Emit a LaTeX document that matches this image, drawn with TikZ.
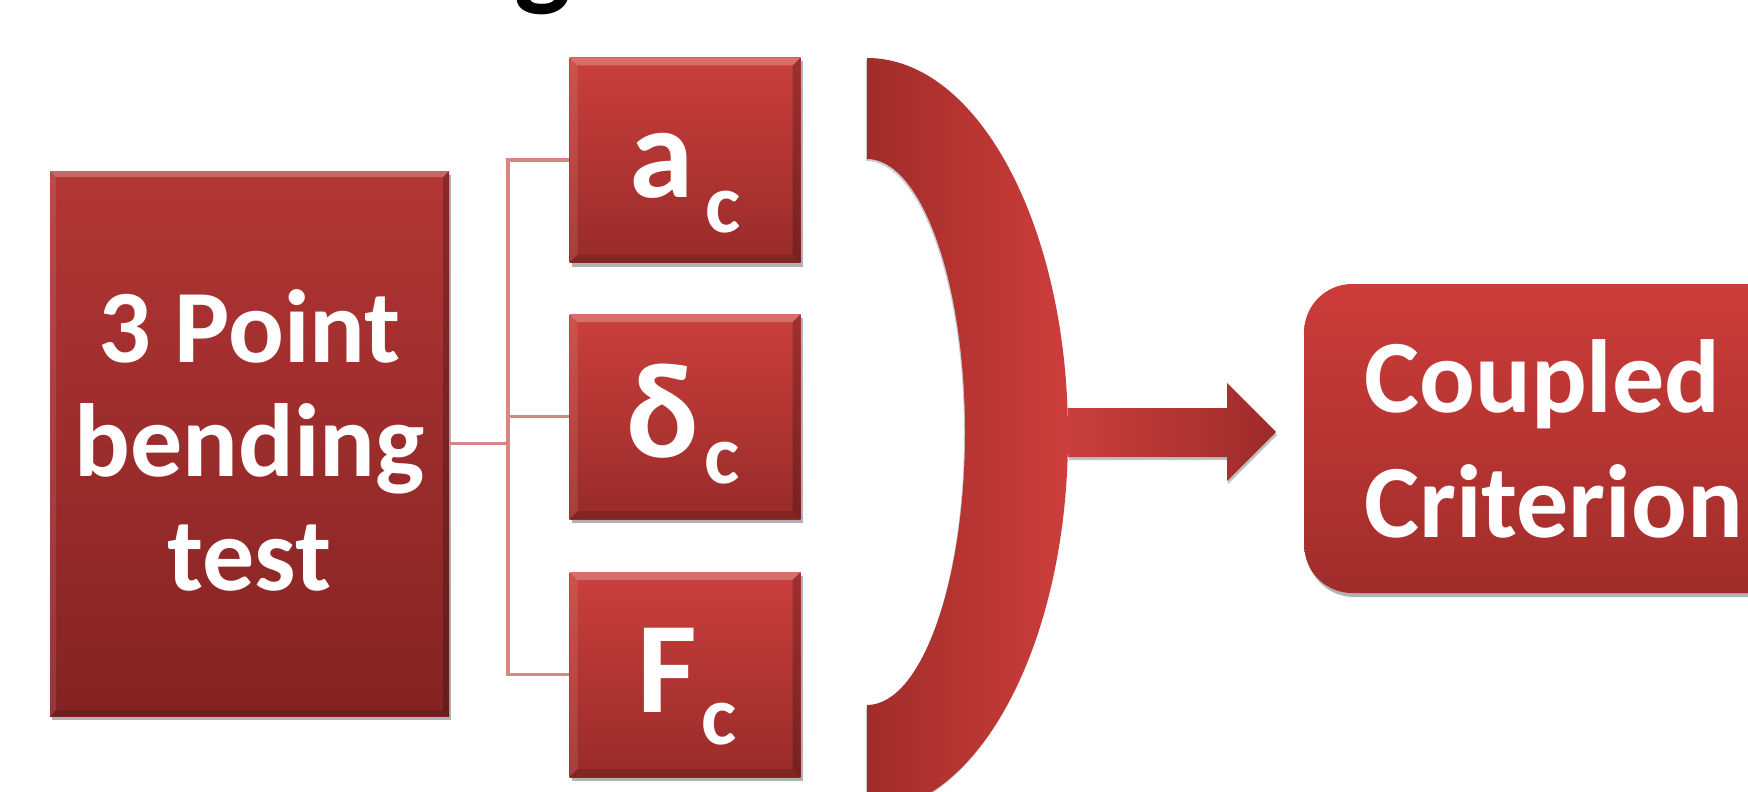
\documentclass[tikz,border=0pt]{standalone}
\usepackage{fontspec}
\setmainfont{Carlito}
\usetikzlibrary{shadows}
\definecolor{lbTop}{HTML}{B23634}
\definecolor{lbBot}{HTML}{842323}
\definecolor{sbTop}{HTML}{CA3F3C}
\definecolor{sbBot}{HTML}{982B29}
\definecolor{rbTop}{HTML}{CC3C39}
\definecolor{rbBot}{HTML}{A02D2B}
\definecolor{brL}{HTML}{A12C2A}
\definecolor{brR}{HTML}{CD3E3B}
\definecolor{arL}{HTML}{C83F3D}
\definecolor{arR}{HTML}{9E2B29}
\definecolor{connC}{HTML}{D98584}
\newcommand\lowc[2]{\hspace{#1pt}\raisebox{-#2pt}{\fontsize{84}{84}\selectfont\bfseries c}}
\begin{document}
\begin{tikzpicture}[x=1pt,y=-1pt,
  shadowed/.style={drop shadow={shadow xshift=2pt,shadow yshift=-4pt,opacity=.3,fill=black}},
  bevel/.style={path picture={
    \fill[white,opacity=.25] (path picture bounding box.north west) -- (path picture bounding box.north east)
      -- ([xshift=-#1,yshift=-#1]path picture bounding box.north east) -- ([xshift=#1,yshift=-#1]path picture bounding box.north west) -- cycle;
    \fill[white,opacity=.10] (path picture bounding box.north west) -- (path picture bounding box.south west)
      -- ([xshift=#1,yshift=#1]path picture bounding box.south west) -- ([xshift=#1,yshift=-#1]path picture bounding box.north west) -- cycle;
    \fill[black,opacity=.22] (path picture bounding box.north east) -- (path picture bounding box.south east)
      -- ([xshift=-#1,yshift=#1]path picture bounding box.south east) -- ([xshift=-#1,yshift=-#1]path picture bounding box.north east) -- cycle;
    \fill[black,opacity=.15] (path picture bounding box.south west) -- (path picture bounding box.south east)
      -- ([xshift=-#1,yshift=#1]path picture bounding box.south east) -- ([xshift=#1,yshift=#1]path picture bounding box.south west) -- cycle;
  }},
  lbox/.style={rectangle, inner sep=0pt, minimum width=399pt, minimum height=545pt,
    top color=lbTop, bottom color=lbBot, shadowed, bevel=6pt},
  lbtext/.style={inner sep=0pt, text=white, align=center,
    font=\fontsize{104}{114}\selectfont\bfseries},
  sbox/.style={rectangle, inner sep=0pt, minimum width=231pt, minimum height=205pt,
    top color=sbTop, bottom color=sbBot, shadowed, bevel=8pt},
  sym/.style={anchor=base, inner sep=0pt, text=white, font=\fontsize{130}{130}\selectfont\bfseries},
  rbox/.style={rectangle, rounded corners=48pt, anchor=west, minimum height=309pt, inner xsep=60pt,
    top color=rbTop, bottom color=rbBot, text=white, align=left,
    font=\fontsize{104}{125}\selectfont\bfseries, shadowed},
  conn/.style={draw=connC, line width=3.5pt},
  ttl/.style={anchor=base, inner sep=0pt, text=black, font=\fontsize{120}{120}\selectfont\bfseries}
]
\useasboundingbox (0,0) rectangle (1748,792);
\clip (0,0) rectangle (1748,792);

% cropped title fragment
\node[ttl] (title) at (543,-5) {g};

\coordinate (jn) at (508,443.5);

% left box
\node[lbox] (test) at (249.5,443.5) {};
\node[lbtext] (testtxt) at (249.5,440) {3 Point\\bending\\test};

% small boxes
\node[sbox] (ac) at (685,160) {};
\node[sbox] (dc) at (685,416.5) {};
\node[sbox] (fc) at (685,674.5) {};
\node[sym] (acl) at (685,197) {a\lowc{12}{35}};
\node[sym] (dcl) at (683,457) {{\fontsize{136}{136}\selectfont δ}\lowc{6}{26}};
\node[sym] (fcl) at (687,712) {F\lowc{4}{32}};

% connectors
\draw[conn] (test.east) -- (jn);
\draw[conn] (ac.west) -| (jn);
\draw[conn] (fc.west) -| (jn);
\draw[conn] (dc.west) -- (dc.west -| jn);

% bracket
\path[left color=brL, right color=brR, drop shadow={shadow xshift=-1pt,shadow yshift=-2pt,opacity=.2,fill=black}]
  (867,58) arc[start angle=90, end angle=-90, x radius=201pt, y radius=377pt]
  -- (867,705) arc[start angle=-90, end angle=90, x radius=98pt, y radius=273pt] -- cycle;

% arrow
\path[left color=arL, right color=arR, drop shadow={shadow xshift=1pt,shadow yshift=-3pt,opacity=.25,fill=black}]
  (1068,408) -- (1227,408) -- (1227,383) -- (1276,432) -- (1227,481) -- (1227,457) -- (1068,457) -- cycle;

% right box
\node[rbox] (cc) at (1304,438.5) {Coupled\\Criterion};
\end{tikzpicture}
\end{document}
